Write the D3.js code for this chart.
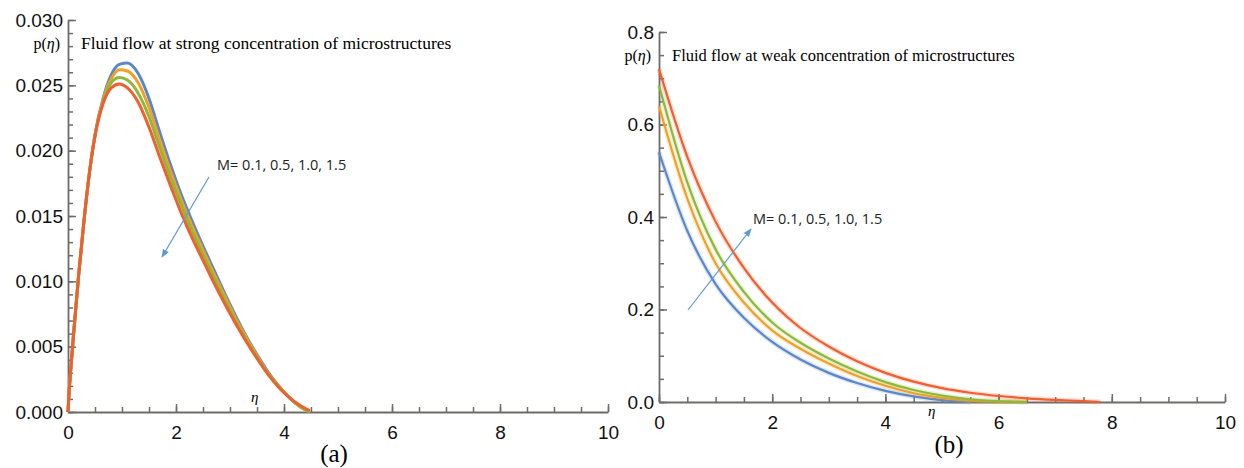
<!DOCTYPE html>
<html lang="en">
<head>
  <meta charset="utf-8">
  <title>Microstructure concentration p(eta)</title>
  <script src="https://d3js.org/d3.v7.min.js"></script>
  <style>
    body { margin: 0; background: #fff; }
    .tick text { font-family: "Liberation Sans", Arial, sans-serif; font-size: 19px; fill: #111; }
    .axis path, .axis line { stroke: #6e6c6a; }
    .axis line { stroke-width: 1.5; }
    .serif { font-family: "Liberation Serif", "Times New Roman", serif; }
  </style>
</head>
<body>
<svg width="1244" height="468"></svg>
<script>
  // series colours for M = 0.1, 0.5, 1.0, 1.5
  var colors = ["#5b87c8", "#eea126", "#8fb83a", "#ef5f2f"];
  var mLabel = "M= 0.1, 0.5, 1.0, 1.5";

  // panel (a): strong concentration
  var etaA = [0, 0.02, 0.05, 0.1, 0.2, 0.3, 0.4, 0.5, 0.65, 0.8, 0.95, 1.1, 1.3, 1.5, 1.7, 1.9,
              2.1, 2.3, 2.5, 2.7, 2.9, 3.1, 3.3, 3.5, 3.7, 3.9, 4.1, 4.3, 4.48];
  var pA_M01 = [0, 0.0015, 0.0032, 0.0058, 0.0106, 0.0148, 0.0184, 0.0212, 0.0240, 0.0258, 0.0266, 0.0267, 0.0259, 0.0240, 0.0214, 0.0189,
                0.0166, 0.0146, 0.0127, 0.0109, 0.0091, 0.0074, 0.0058, 0.0044, 0.0031, 0.0020, 0.0011, 0.0004, 0];
  var pA_M05 = [0, 0.0015, 0.0032, 0.0058, 0.0106, 0.0148, 0.0184, 0.0212, 0.0239, 0.0255, 0.0262, 0.0261, 0.0252, 0.0233, 0.0208, 0.0184,
                0.0162, 0.0142, 0.0124, 0.0106, 0.0089, 0.0072, 0.0057, 0.0043, 0.0030, 0.0020, 0.0011, 0.0004, 0];
  var pA_M10 = [0, 0.0015, 0.0032, 0.0058, 0.0106, 0.0148, 0.0184, 0.0212, 0.0238, 0.0252, 0.0256, 0.0254, 0.0244, 0.0226, 0.0202, 0.0179,
                0.0158, 0.0138, 0.0120, 0.0103, 0.0086, 0.0070, 0.0055, 0.0042, 0.0030, 0.0020, 0.0011, 0.0004, 0];
  var pA_M15 = [0, 0.0015, 0.0032, 0.0058, 0.0106, 0.0148, 0.0184, 0.0211, 0.0236, 0.0248, 0.0251, 0.0248, 0.0237, 0.0218, 0.0195, 0.0173,
                0.0152, 0.0133, 0.0116, 0.0099, 0.0083, 0.0068, 0.0054, 0.0041, 0.0029, 0.0019, 0.0011, 0.0005, 0.0001];

  // panel (b): weak concentration
  var etaB = [0, 0.5, 1, 1.5, 2, 2.5, 3, 3.5, 4, 4.5, 5, 5.5, 6, 6.5, 7, 7.5, 7.8];
  var pB_M01 = [0.54, 0.37, 0.255, 0.182, 0.13, 0.092, 0.063, 0.041, 0.024, 0.012, 0.004, 0];
  var pB_M05 = [0.64, 0.44, 0.30, 0.215, 0.155, 0.115, 0.083, 0.056, 0.035, 0.019, 0.009, 0.003, 0.001, 0];
  var pB_M10 = [0.685, 0.475, 0.33, 0.238, 0.172, 0.128, 0.094, 0.066, 0.043, 0.026, 0.014, 0.006, 0.002, 0];
  var pB_M15 = [0.72, 0.53, 0.39, 0.29, 0.215, 0.16, 0.12, 0.088, 0.063, 0.044, 0.030, 0.020, 0.013, 0.008, 0.0045, 0.002, 0];

  var xTicks = [0, 2, 4, 6, 8, 10];
  var yTicksA = [0, 0.005, 0.010, 0.015, 0.020, 0.025, 0.030];
  var yTicksB = [0, 0.2, 0.4, 0.6, 0.8];

  var svg = d3.select("svg");

  function drawPanel(o) {
    var x = d3.scaleLinear().domain([0, 10]).range(o.xr);
    var y = d3.scaleLinear().domain(o.yd).range(o.yr);
    var g = svg.append("g");

    // minor ticks first
    g.append("g").attr("class", "axis")
      .attr("transform", "translate(0," + o.yr[0] + ")")
      .call(d3.axisBottom(x).tickValues(d3.range(0, 10.01, 0.5)).tickSizeInner(-5).tickSizeOuter(0).tickFormat(function() { return ""; }))
      .select(".domain").remove();
    g.append("g").attr("class", "axis")
      .attr("transform", "translate(" + o.xr[0] + ",0)")
      .call(d3.axisLeft(y).tickValues(o.yMinor).tickSizeInner(-5).tickSizeOuter(0).tickFormat(function() { return ""; }))
      .select(".domain").remove();

    var xa = g.append("g").attr("class", "axis")
      .attr("transform", "translate(0," + o.yr[0] + ")")
      .call(d3.axisBottom(x).tickValues(xTicks).tickSizeInner(-8).tickSizeOuter(0).tickPadding(14).tickFormat(d3.format("d")));
    xa.select(".domain").attr("stroke-width", 1.8);
    var ya = g.append("g").attr("class", "axis")
      .attr("transform", "translate(" + o.xr[0] + ",0)")
      .call(d3.axisLeft(y).tickValues(o.yTicks).tickSizeInner(-8).tickSizeOuter(0).tickPadding(5).tickFormat(d3.format(o.fmt)));
    ya.select(".domain").attr("stroke-width", 1.8);

    var line = d3.line()
      .x(function(d) { return x(d[0]); })
      .y(function(d) { return y(d[1]); })
      .curve(d3.curveMonotoneX);

    o.series.forEach(function(s, i) {
      var pts = s.map(function(v, j) { return [o.eta[j], v]; });
      if (o.halo) {
        g.append("path").attr("d", line(pts)).attr("fill", "none")
          .attr("stroke", colors[i]).attr("stroke-opacity", 0.2).attr("stroke-width", 5);
      }
      g.append("path").attr("d", line(pts)).attr("fill", "none")
        .attr("stroke", colors[i]).attr("stroke-width", o.lw);
    });

    g.append("text").attr("class", "serif")
      .attr("x", o.xr[0] - 8).attr("y", o.pY).attr("text-anchor", "end")
      .style("font-size", "16px").html("p(<tspan font-style='italic'>η</tspan>)");
    g.append("text").attr("class", "serif")
      .attr("x", o.xr[0] + 13).attr("y", o.pY).style("font-size", o.titleSize).text(o.title);
    g.append("text").attr("class", "serif")
      .attr("x", o.etaPos[0]).attr("y", o.etaPos[1]).style("font-size", "15px")
      .style("font-style", "italic").text("η");
    g.append("text").attr("class", "serif")
      .attr("x", o.capPos[0]).attr("y", o.capPos[1]).attr("text-anchor", "middle")
      .style("font-size", "25px").text(o.cap);

    g.append("line")
      .attr("x1", o.arrow[0]).attr("y1", o.arrow[1]).attr("x2", o.arrow[2]).attr("y2", o.arrow[3])
      .attr("stroke", "#5b9bd5").attr("stroke-width", 1.2).attr("marker-end", "url(#arr)");
    g.append("text")
      .attr("x", o.mPos[0]).attr("y", o.mPos[1])
      .style("font-family", "'Open Sans', 'Noto Sans', sans-serif").style("font-size", "14.5px")
      .attr("fill", "#222").text(mLabel);
  }

  svg.append("defs").append("marker")
    .attr("id", "arr").attr("viewBox", "0 0 10 10").attr("refX", 9).attr("refY", 5)
    .attr("markerWidth", 7).attr("markerHeight", 7).attr("orient", "auto")
    .append("path").attr("d", "M0,1 L10,5 L0,9 z").attr("fill", "#5b9bd5");

  drawPanel({
    xr: [68, 608], yr: [412, 20], yd: [0, 0.030],
    yTicks: yTicksA, yMinor: d3.range(0, 0.0305, 0.001), fmt: ".3f",
    eta: etaA, series: [pA_M01, pA_M05, pA_M10, pA_M15], lw: 3, halo: false,
    title: "Fluid flow at strong concentration of microstructures", pY: 49, titleSize: "17.5px",
    etaPos: [251, 402], capPos: [334, 462], cap: "(a)",
    arrow: [209, 177, 162, 257], mPos: [217, 170]
  });

  drawPanel({
    xr: [659, 1225], yr: [402, 32], yd: [0, 0.8],
    yTicks: yTicksB, yMinor: d3.range(0, 0.801, 0.05), fmt: ".1f",
    eta: etaB, series: [pB_M01, pB_M05, pB_M10, pB_M15], lw: 2.2, halo: true,
    title: "Fluid flow at weak concentration of microstructures", pY: 61, titleSize: "16.5px",
    etaPos: [928, 416], capPos: [949, 453], cap: "(b)",
    arrow: [688, 310, 751, 229], mPos: [753, 224]
  });
</script>
</body>
</html>
